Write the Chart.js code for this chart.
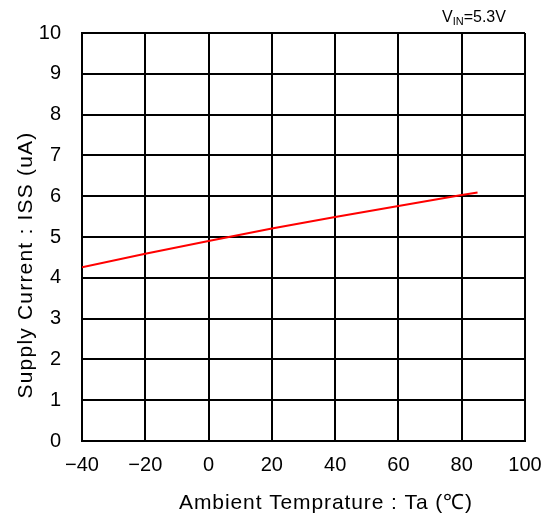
<!DOCTYPE html>
<html>
<head>
<meta charset="utf-8">
<script src="https://cdn.jsdelivr.net/npm/chart.js@4"></script>
<style>
  body { margin: 0; background: #fff; }
  #wrap { width: 548px; height: 517px; }
</style>
</head>
<body>
<div id="wrap"><canvas id="chart" width="548" height="517"></canvas></div>
<script>
// temperature (°C) and supply current (uA)
var temps = [-40, -20, 0, 20, 40, 60, 80, 85];
var issValues = [4.26, 4.59, 4.90, 5.21, 5.49, 5.76, 6.03, 6.09];
var xTicks = [-40, -20, 0, 20, 40, 60, 80, 100];
var yTicks = [0, 1, 2, 3, 4, 5, 6, 7, 8, 9, 10];

var fontFamily = '"Liberation Sans", Arial, sans-serif';

// axis titles and V_IN note are drawn here
var extraText = {
    id: 'extraText',
    afterDraw: function (chart) {
        var ctx = chart.ctx;
        ctx.save();
        ctx.fillStyle = '#000';
        ctx.textBaseline = 'alphabetic';
        ctx.textAlign = 'center';
        ctx.font = '21px ' + fontFamily;
        ctx.letterSpacing = '0.9px';
        ctx.fillText('Ambient Temprature : Ta (\u2103)', 326, 509);

        ctx.save();
        ctx.translate(32, 265);
        ctx.rotate(-Math.PI / 2);
        ctx.letterSpacing = '1.2px';
        ctx.fillText('Supply Current : ISS (uA)', 0, 0);
        ctx.restore();

        ctx.letterSpacing = '0px';
        ctx.textAlign = 'left';
        ctx.font = '16px ' + fontFamily;
        var x = 442;
        ctx.fillText('V', x, 22);
        x += ctx.measureText('V').width;
        ctx.font = '11px ' + fontFamily;
        ctx.fillText('IN', x, 25);
        x += ctx.measureText('IN').width;
        ctx.font = '16px ' + fontFamily;
        ctx.fillText('=5.3V', x, 22);
        ctx.restore();
    }
};

var points = temps.map(function (t, i) { return { x: t, y: issValues[i] }; });

new Chart(document.getElementById('chart'), {
    type: 'line',
    data: {
        datasets: [{
            data: points,
            borderColor: '#ff0000',
            borderWidth: 2,
            pointRadius: 0,
            tension: 0,
            fill: false
        }]
    },
    options: {
        responsive: false,
        animation: false,
        layout: { padding: { top: 33, right: 0, left: 0, bottom: 0 } },
        plugins: {
            legend: { display: false },
            tooltip: { enabled: false }
        },
        scales: {
            x: {
                type: 'linear',
                min: -40,
                max: 100,
                afterBuildTicks: function (scale) {
                    scale.ticks = xTicks.map(function (v) { return { value: v }; });
                },
                afterFit: function (scale) {
                    scale.height = 76;
                    scale.paddingLeft = 0;
                    scale.paddingRight = 23;
                },
                grid: { color: '#000', lineWidth: 2, drawTicks: false },
                border: { color: '#000', width: 2 },
                ticks: {
                    color: '#000',
                    padding: 12,
                    maxRotation: 0,
                    font: { family: fontFamily, size: 20 },
                    callback: function (v) { return v < 0 ? '\u2212' + Math.abs(v) : '' + v; }
                }
            },
            y: {
                min: 0,
                max: 10,
                afterBuildTicks: function (scale) {
                    scale.ticks = yTicks.map(function (v) { return { value: v }; });
                },
                afterFit: function (scale) { scale.width = 82; },
                grid: { color: '#000', lineWidth: 2, drawTicks: false },
                border: { color: '#000', width: 2 },
                ticks: {
                    color: '#000',
                    padding: 21,
                    font: { family: fontFamily, size: 20 }
                }
            }
        }
    },
    plugins: [extraText]
});
</script>
</body>
</html>
